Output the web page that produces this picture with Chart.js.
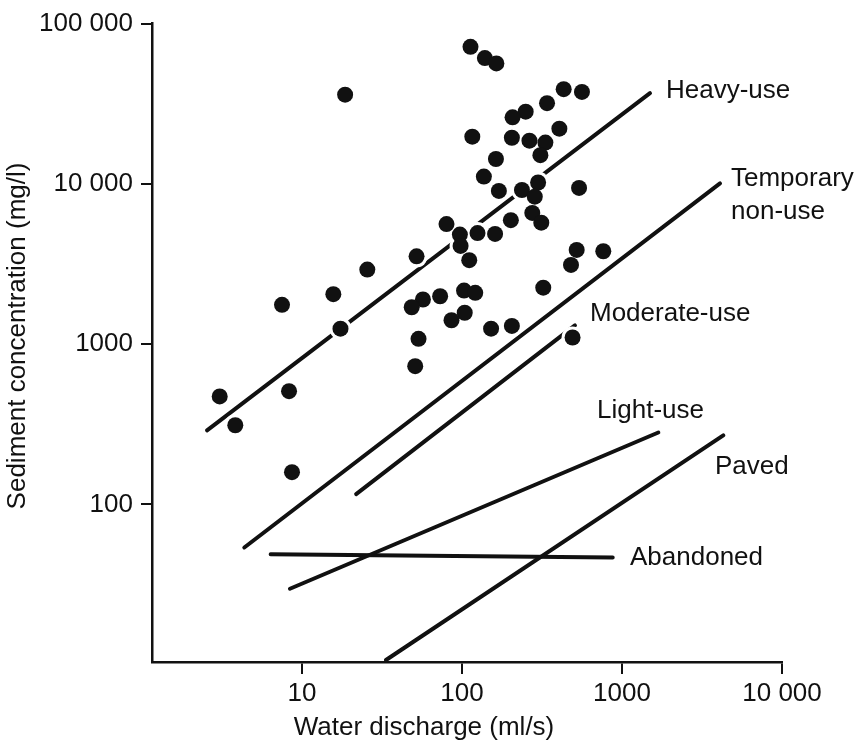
<!DOCTYPE html>
<html>
<head>
<meta charset="utf-8">
<script src="https://cdn.jsdelivr.net/npm/chart.js@4.4.1/dist/chart.umd.min.js"></script>
<style>
  html, body { margin: 0; padding: 0; background: #fff; }
  #wrap { width: 865px; height: 745px; }
</style>
</head>
<body>
<div id="wrap"><canvas id="sedimentChart" width="865" height="745"></canvas></div>
<script>
// Measured points: water discharge (ml/s) and sediment concentration (mg/l)
const waterDischarge = [113, 139, 164, 432, 562, 340, 250, 207, 406, 116, 205, 264, 332, 309, 163, 137,
    299, 539, 170, 237, 285, 80, 97, 125, 161, 202, 275, 313, 98, 52, 111, 521, 764, 480, 322, 103,
    121, 73, 57, 48.5, 104, 86, 152, 205, 491, 53.5, 51, 18.6, 25.6, 15.7, 7.5, 17.4, 8.3, 3.06, 3.83, 8.66];
const sedimentConc = [71600, 60900, 56400, 39000, 37500, 31900, 28200, 26000, 22100, 19700, 19400, 18600,
    18100, 15100, 14300, 11100, 10200, 9430, 9040, 9160, 8320, 5610, 4830, 4930, 4870, 5940, 6590, 5730,
    4100, 3530, 3340, 3870, 3800, 3120, 2250, 2160, 2090, 1990, 1900, 1700, 1570, 1410, 1250, 1300, 1100,
    1080, 729, 36000, 2920, 2050, 1760, 1250, 509, 472, 312, 159];

// Regression lines for each road-use class (start / end points)
const lineNames = ['Heavy-use', 'Temporary non-use', 'Moderate-use', 'Light-use', 'Paved', 'Abandoned'];
const lineStartX = [2.55, 4.36, 21.8, 8.41, 33.5, 6.37];
const lineStartY = [290, 53.9, 116, 29.8, 10.7, 48.9];
const lineEndX = [1496, 4098, 508, 1687, 4295, 875];
const lineEndY = [36800, 10070, 1309, 281, 270, 46.7];

// Line labels (anchored in data space, left edge / middle)
const labelTexts = ['Heavy-use', 'Temporary', 'non-use', 'Moderate-use', 'Light-use', 'Paved', 'Abandoned'];
const labelX = [1884, 4800, 4800, 631, 698, 3812, 1122];
const labelY = [38100, 10770, 6710, 1552, 386, 170.6, 46.2];

// Axis ticks
const xTickValues = [10, 100, 1000, 10000];
const xTickLabels = ['10', '100', '1000', '10 000'];
const yTickValues = [100, 1000, 10000, 100000];
const yTickLabels = ['100', '1000', '10 000', '100 000'];

const xTitle = 'Water discharge (ml/s)';
const yTitle = 'Sediment concentration (mg/l)';

const ink = '#111';
const fontFamily = "'Liberation Sans', Arial, sans-serif";

const points = waterDischarge.map((x, i) => ({ x: x, y: sedimentConc[i] }));

const lineSets = lineNames.map((name, i) => ({
    label: name,
    data: [{ x: lineStartX[i], y: lineStartY[i] }, { x: lineEndX[i], y: lineEndY[i] }],
    showLine: true,
    borderColor: ink,
    borderWidth: 4,
    borderCapStyle: 'round',
    pointRadius: 0,
    order: 3
}));

// white halo round the dots, so the lines break where they pass under them
const haloSet = {
    label: 'halo',
    data: points,
    pointRadius: 11,
    pointBackgroundColor: '#fff',
    pointBorderWidth: 0,
    order: 2
};

const dotSet = {
    label: 'Samples',
    data: points,
    pointRadius: 8,
    pointBackgroundColor: ink,
    pointBorderWidth: 0,
    order: 1
};

const textPlugin = {
    id: 'textPlugin',
    afterDraw(chart) {
        const ctx = chart.ctx;
        const xs = chart.scales.x, ys = chart.scales.y;
        ctx.save();
        ctx.fillStyle = ink;
        ctx.font = '26px ' + fontFamily;
        ctx.textBaseline = 'middle';
        ctx.textAlign = 'left';
        labelTexts.forEach((t, i) => {
            ctx.fillText(t, xs.getPixelForValue(labelX[i]), ys.getPixelForValue(labelY[i]));
        });
        // axis titles
        ctx.textAlign = 'center';
        ctx.fillText(xTitle, 424, 728);
        ctx.translate(18, 336);
        ctx.rotate(-Math.PI / 2);
        ctx.fillText(yTitle, 0, 0);
        ctx.restore();
    }
};

window.onload = function() {
    const ctx = document.getElementById('sedimentChart').getContext('2d');
    new Chart(ctx, {
        type: 'scatter',
        data: { datasets: [...lineSets, haloSet, dotSet] },
        options: {
            responsive: false,
            animation: false,
            layout: { padding: { left: 0, right: 83, top: 23, bottom: 0 } },
            plugins: {
                legend: { display: false },
                tooltip: { enabled: false }
            },
            scales: {
                x: {
                    type: 'logarithmic',
                    min: 1.155,
                    max: 10000,
                    afterBuildTicks: (scale) => { scale.ticks = xTickValues.map(v => ({ value: v })); },
                    afterFit: (scale) => { scale.height = 83; },
                    ticks: {
                        autoSkip: false,
                        maxRotation: 0,
                        minRotation: 0,
                        padding: 4,
                        color: ink,
                        font: { family: fontFamily, size: 26 },
                        callback: (v, i) => xTickLabels[i]
                    },
                    grid: { drawOnChartArea: false, drawTicks: true, tickLength: 12, color: ink, lineWidth: 2 },
                    border: { display: true, color: ink, width: 2.5 }
                },
                y: {
                    type: 'logarithmic',
                    min: 10.4,
                    max: 100000,
                    afterBuildTicks: (scale) => { scale.ticks = yTickValues.map(v => ({ value: v })); },
                    afterFit: (scale) => { scale.width = 152; },
                    ticks: {
                        autoSkip: false,
                        padding: 8,
                        color: ink,
                        font: { family: fontFamily, size: 26 },
                        callback: (v, i) => yTickLabels[i]
                    },
                    grid: { drawOnChartArea: false, drawTicks: true, tickLength: 11, color: ink, lineWidth: 2 },
                    border: { display: true, color: ink, width: 2.5 }
                }
            }
        },
        plugins: [textPlugin]
    });
};
</script>
</body>
</html>
